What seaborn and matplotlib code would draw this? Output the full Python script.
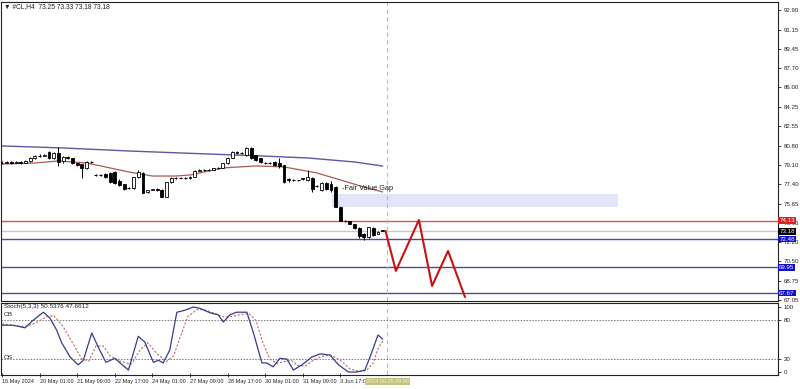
import matplotlib
matplotlib.use("Agg")
import matplotlib.pyplot as plt
import seaborn as sns
import pandas as pd
from matplotlib.patches import Rectangle

sns.set_theme(style="white")
plt.rcParams['font.family'] = ['Liberation Sans', 'DejaVu Sans']

# ---------------- data ----------------
opens = [79.30, 79.28, 79.35, 79.28, 79.36, 79.30, 79.40, 79.72, 79.88, 79.90,
         80.20, 79.72, 80.15, 79.40, 79.78, 79.70, 79.26, 79.15, 78.82, 79.35,
         78.20, 78.19, 78.25, 78.35, 78.45, 77.70, 77.35, 77.00, 77.03, 78.00,
         78.40, 76.65, 76.86, 76.94, 76.86, 76.23, 77.57, 77.92, 77.92, 77.95,
         77.92, 78.05, 78.55, 78.64, 78.62, 78.66, 78.80, 78.82, 79.22, 79.75,
         80.22, 80.15, 79.97, 80.60, 79.95, 79.70, 79.28, 79.26, 79.35, 79.25,
         79.08, 77.85, 77.75, 77.72, 77.80, 77.75, 77.95, 77.20, 76.86, 77.48,
         77.40, 77.10, 75.34, 74.09, 74.05, 73.80, 73.50, 72.90, 72.65, 73.50,
         72.95, 73.25]
highs = [79.40, 79.45, 79.42, 79.45, 79.45, 79.55, 79.80, 79.95, 80.05, 80.10,
         80.30, 80.20, 80.70, 79.85, 79.85, 79.75, 79.30, 79.20, 79.40, 79.45,
         78.30, 78.30, 78.40, 78.50, 78.55, 77.80, 77.40, 77.10, 78.05, 78.65,
         78.45, 76.80, 76.95, 77.00, 76.90, 77.60, 78.05, 78.00, 78.00, 78.05,
         78.10, 78.60, 78.70, 78.70, 78.70, 78.85, 78.90, 79.30, 79.80, 80.30,
         80.30, 80.20, 80.70, 80.65, 80.00, 79.75, 79.35, 79.35, 79.40, 79.70,
         79.10, 77.90, 77.80, 77.78, 77.95, 78.60, 78.00, 77.30, 77.55, 77.55,
         77.70, 77.20, 75.40, 74.15, 74.10, 73.85, 73.55, 73.00, 73.60, 73.56,
         73.20, 73.33]
lows = [79.20, 79.22, 79.20, 79.22, 79.20, 79.25, 79.35, 79.65, 79.80, 79.85,
        79.65, 79.65, 78.95, 79.30, 79.65, 79.20, 79.00, 77.90, 78.75, 79.25,
        78.10, 78.12, 77.90, 77.50, 77.40, 77.25, 76.85, 76.95, 76.95, 77.95,
        76.55, 76.60, 76.85, 76.80, 76.20, 76.20, 77.50, 77.85, 77.88, 77.85,
        77.85, 78.00, 78.55, 78.58, 78.58, 78.62, 78.75, 78.78, 79.18, 79.72,
        80.10, 80.10, 79.90, 79.65, 79.45, 79.30, 79.20, 79.20, 79.00, 78.85,
        77.50, 77.60, 77.70, 77.68, 77.75, 77.70, 76.65, 77.10, 76.80, 76.85,
        76.65, 75.30, 74.05, 74.00, 73.80, 73.40, 72.60, 72.40, 72.60, 72.75,
        72.90, 73.18]
closes = [79.28, 79.35, 79.28, 79.36, 79.30, 79.45, 79.72, 79.88, 79.90, 80.00,
          79.72, 80.15, 79.35, 79.80, 79.70, 79.26, 79.08, 78.82, 79.35, 79.33,
          78.19, 78.22, 78.00, 77.57, 77.48, 77.30, 76.95, 77.03, 78.00, 78.46,
          76.60, 76.86, 76.94, 76.86, 76.23, 77.57, 77.92, 77.92, 77.95, 77.92,
          78.01, 78.55, 78.64, 78.62, 78.66, 78.80, 78.82, 79.22, 79.70, 80.22,
          80.15, 80.18, 80.60, 79.71, 79.53, 79.35, 79.26, 79.28, 79.10, 78.95,
          77.60, 77.75, 77.72, 77.75, 77.90, 78.01, 76.90, 77.21, 77.48, 76.94,
          76.86, 75.34, 74.09, 74.05, 73.85, 73.50, 72.75, 72.65, 73.56, 72.84,
          73.11, 73.18]

ma_slow_bars = [0, 13, 27, 44, 55, 65, 75, 81]
ma_slow_vals = [80.78, 80.60, 80.33, 80.06, 79.89, 79.71, 79.35, 78.99]
ma_fast_bars = [0, 7, 12, 18, 23, 27, 32, 37, 40, 47, 54, 60, 67, 72, 77, 81]
ma_fast_vals = [79.17, 79.26, 79.44, 79.26, 78.82, 78.46, 78.10, 78.10, 78.19,
                78.82, 79.00, 78.91, 78.37, 77.75, 77.12, 76.68]

stoch_k_bars = [0, 2.4, 4.9, 6.7, 8.8, 10.2, 11.6, 12.7, 14.5, 16.2, 17.3, 19.1,
                20.5, 22.1, 24, 26.9, 29, 30.4, 32.2, 33.3, 34.3, 35.7, 37.2, 38.9,
                40.7, 42.1, 44.3, 46, 47.1, 48.5, 49.9, 52.1, 53.5, 55.3, 56.3, 57.7,
                59.1, 60.6, 62, 63.8, 65.9, 67.7, 69.8, 71.6, 73.7, 75.5, 77.2, 78.3,
                80, 81]
stoch_k_vals = [72, 72, 68, 80, 92, 83, 65, 45, 23, 11, 18, 60,
                38, 15, 21, 3, 55, 46, 15, 18, 14, 34, 92, 95,
                100, 98, 91, 88, 77, 88, 92, 92, 60, 14, 14, 8,
                21, 20, 3, 11, 23, 28, 26, 11, 0, 0, 3, 23,
                57, 50.54]
stoch_d_bars = [0, 3, 5, 7, 9.5, 11, 13, 15, 17, 18.5, 20, 21.5, 23, 25, 27.5,
                29.5, 31, 33, 35, 36.5, 38, 39.5, 41.5, 43, 45, 47, 48.5, 50.5,
                52.5, 54, 55.5, 57, 58.5, 60, 61.5, 63, 64.5, 66, 68, 70, 72, 74,
                76, 77.5, 79, 80, 81]
stoch_d_vals = [74, 71, 70, 75, 85, 87, 70, 45, 20, 17, 40, 40, 25, 17, 12,
                35, 45, 28, 16, 25, 55, 85, 96, 96, 91, 85, 85, 88,
                90, 80, 45, 20, 13, 16, 18, 10, 9, 17, 24, 26, 18, 5,
                1, 2, 14, 36, 47.66]

level_values = [74.13, 73.18, 72.48, 69.95, 67.67]
level_labels = ["74.13", "73.18", "72.48", "69.95", "67.67"]
level_colors = ["#d9534f", "#c8c8c8", "#4a4aa0", "#4a4aa0", "#4a4aa0"]
box_colors = ["#e02020", "#000000", "#1010d0", "#1010d0", "#1010d0"]

fvg_bars = [70.2, 131.1]
fvg_prices = [75.34, 76.50]

zigzag_bars = [81.6, 83.8, 88.7, 91.5, 94.9, 98.5]
zigzag_prices = [73.20, 69.64, 74.18, 68.30, 71.42, 67.32]

price_ticks = [92.90, 91.15, 89.45, 87.70, 86.00, 84.25, 82.55, 80.80, 79.10,
               77.40, 75.65, 73.95, 72.20, 70.50, 68.75, 67.05]
price_tick_labels = ["92.90", "91.15", "89.45", "87.70", "86.00", "84.25", "82.55",
                     "80.80", "79.10", "77.40", "75.65", "73.95", "72.20", "70.50",
                     "68.75", "67.05"]

date_bars = [0, 8, 16, 24, 32, 40, 48, 56, 64, 72]
date_labels = ["16 May 2024", "20 May 01:00", "21 May 09:00", "22 May 17:00",
               "24 May 01:00", "27 May 09:00", "28 May 17:00", "30 May 01:00",
               "31 May 09:00", "3 Jun 17:00"]
cursor_bar = 82
cursor_label = "2024.06.05 09:00"

title_text = "#CL,H4  73.25 73.33 73.18 73.18"
stoch_title = "Stoch(5,3,3) 50.5376 47.6612"

# ---------------- figure ----------------
W, H = 800, 389
fig = plt.figure(figsize=(8, 3.89), dpi=100)
fig.patch.set_facecolor("white")

def fx(px):
    return px / W

def fy(py):
    return 1 - py / H

ax = fig.add_axes([fx(1), fy(301), fx(778) - fx(1), fy(2) - fy(301)])
ax2 = fig.add_axes([fx(1), fy(375), fx(778) - fx(1), fy(303) - fy(375)], sharex=ax)

xmin, xmax = -0.21, 165.1
ax.set_xlim(xmin, xmax)
ax.set_ylim(66.96, 93.61)
ax2.set_ylim(-4.6, 106.2)

for a in (ax, ax2):
    a.set_facecolor("white")
    for s in a.spines.values():
        s.set_color("#222222")
        s.set_linewidth(0.8)

# candles
bars_idx = list(range(len(closes)))
df = pd.DataFrame({"bar": bars_idx, "open": opens, "high": highs,
                   "low": lows, "close": closes})
ax.vlines(df["bar"], df["low"], df["high"], color="black", lw=0.7, zorder=3)
for _, r in df.iterrows():
    lo = min(r["open"], r["close"])
    hgt = abs(r["close"] - r["open"])
    up = r["close"] >= r["open"]
    if hgt < 0.05:
        ax.hlines(r["close"], r["bar"] - 0.32, r["bar"] + 0.32, color="black",
                  lw=0.8, zorder=4)
    else:
        ax.bar(r["bar"], hgt, bottom=lo, width=0.62,
               color="white" if up else "black", edgecolor="black",
               linewidth=0.6, zorder=4)

# moving averages
slow = pd.DataFrame({"bar": ma_slow_bars, "val": ma_slow_vals})
fast = pd.DataFrame({"bar": ma_fast_bars, "val": ma_fast_vals})
sns.lineplot(data=slow, x="bar", y="val", ax=ax, color="#5a5aa0", lw=1.0,
             legend=False, zorder=2)
sns.lineplot(data=fast, x="bar", y="val", ax=ax, color="#a85a55", lw=0.9,
             legend=False, zorder=2)

# horizontal levels
for v, c in zip(level_values, level_colors):
    ax.axhline(v, color=c, lw=1.0, zorder=1)

# fair value gap
ax.add_patch(Rectangle((fvg_bars[0], fvg_prices[0]), fvg_bars[1] - fvg_bars[0],
                       fvg_prices[1] - fvg_prices[0], facecolor="#e3e4f8",
                       edgecolor="none", zorder=0.5))
ax.text(72.3, 77.03, "-Fair Value Gap", fontsize=5.3, color="#222222",
        va="center", ha="left", zorder=5)

# zigzag projection
zz = pd.DataFrame({"bar": zigzag_bars, "price": zigzag_prices})
sns.lineplot(data=zz, x="bar", y="price", ax=ax, color="#cc1111", lw=1.5,
             legend=False, sort=False, zorder=6)

# cursor line
for a in (ax, ax2):
    a.axvline(cursor_bar, color="#c9bb9c", lw=0.8, ls=(0, (4, 3)), zorder=1)

# price axis
ax.yaxis.tick_right()
ax.set_yticks(price_ticks)
ax.set_yticklabels(price_tick_labels)
ax.tick_params(axis="y", labelsize=4.4, length=2.5, width=0.6, pad=1.8,
               colors="#222222", direction="out", right=True, left=False)
ax.tick_params(axis="x", bottom=False, labelbottom=False)
ax.set_xlabel("")
ax.set_ylabel("")

ytr = ax.get_yaxis_transform()
for v, t, bc in zip(level_values, level_labels, box_colors):
    ax.text(1.0015, v, t, transform=ytr, fontsize=4.4, color="white",
            va="center", ha="left", zorder=10, clip_on=False,
            bbox=dict(boxstyle="square,pad=0.15", facecolor=bc, edgecolor="none"))

# stochastic panel
k = pd.DataFrame({"bar": stoch_k_bars, "val": stoch_k_vals})
d = pd.DataFrame({"bar": stoch_d_bars, "val": stoch_d_vals})
sns.lineplot(data=k, x="bar", y="val", ax=ax2, color="#3a3a8e", lw=0.9,
             legend=False, zorder=3)
sns.lineplot(data=d, x="bar", y="val", ax=ax2, color="#c06a6a", lw=0.8,
             ls=(0, (2, 1.5)), legend=False, zorder=2)
for lv in (80, 20):
    ax2.axhline(lv, color="#777777", lw=0.7, ls=(0, (1.5, 1.5)), zorder=1)
ax2.yaxis.tick_right()
ax2.set_yticks([0, 20, 80, 100])
ax2.set_yticklabels(["0", "20", "80", "100"])
ax2.tick_params(axis="y", labelsize=4.4, length=2.5, width=0.6, pad=1.8,
                colors="#222222", right=True, left=False)
ax2.set_ylabel("")
ax2.set_xlabel("")
ax2.text(0.004, 100.5, stoch_title, transform=ax2.get_yaxis_transform(),
         fontsize=4.6, color="#222222", va="center", ha="left")
ax2.text(0.004, 88, "OB", transform=ax2.get_yaxis_transform(),
         fontsize=4.6, color="#222222", va="center", ha="left")
ax2.text(0.004, 22.5, "OS", transform=ax2.get_yaxis_transform(),
         fontsize=4.6, color="#222222", va="center", ha="left")

# time axis
ax2.set_xticks(date_bars)
ax2.set_xticklabels(date_labels)
ax2.tick_params(axis="x", labelsize=4.0, length=3, width=0.6, pad=1.5,
                colors="#222222", bottom=True, direction="inout")
for lbl in ax2.get_xticklabels():
    lbl.set_horizontalalignment("left")
ax2.text(cursor_bar, -0.085, cursor_label, transform=ax2.get_xaxis_transform(),
         fontsize=4.0, color="#f4f4e0", ha="center", va="center", clip_on=False,
         zorder=10,
         bbox=dict(boxstyle="square,pad=0.2", facecolor="#c2c27a", edgecolor="none"))

# title
fig.text(fx(4), fy(6.5), "▼ " + title_text, fontsize=4.8, color="#222222",
         va="center", ha="left")

fig.savefig("out.png", dpi=100, facecolor="white")
